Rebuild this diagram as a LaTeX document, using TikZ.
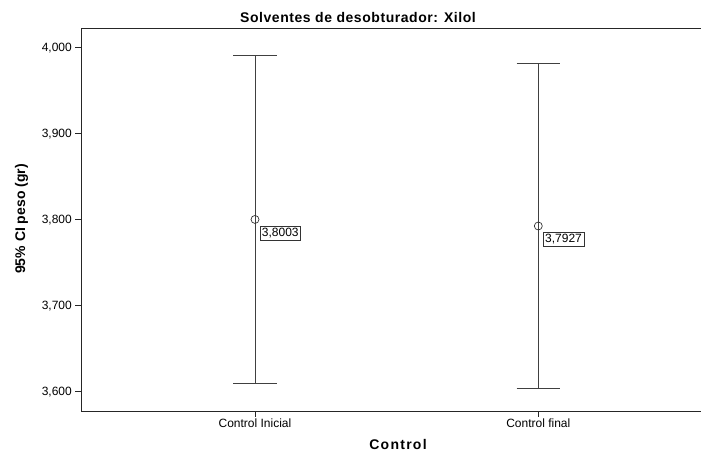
\documentclass[tikz,border=0pt]{standalone}
\usepackage{fontspec}
\setmainfont{Liberation Sans}
\usepackage{xcolor}

\begin{document}
\begin{tikzpicture}[x=1pt, y=-1pt,
  axisline/.style={draw=black!85, line width=0.9pt},
  errbar/.style={draw=black!75, line width=0.8pt},
  ticklabel/.style={font=\fontsize{12}{12}\selectfont, inner sep=0pt},
  meandot/.style={circle, draw=black!80, line width=0.7pt, minimum size=8pt, inner sep=0pt},
  meanlabel/.style={draw=black!80, line width=0.6pt, fill=white, font=\fontsize{12}{12}\selectfont, inner sep=2pt, minimum height=12.6pt, anchor=north west}]
\useasboundingbox (0,0) rectangle (701,452);

% frame of the plot
\coordinate (tl) at (81,28);
\coordinate (bl) at (81,411);
\coordinate (tr) at (701,28);
\coordinate (br) at (701,411);
\draw[axisline] (tr) -- (tl) -- (bl) -- (br);

% y axis ticks
\foreach \v/\txt in {4.0/{4,000},3.9/{3,900},3.8/{3,800},3.7/{3,700},3.6/{3,600}} {
  \coordinate (yt) at (81,{47.7+(4-\v)*860});
  \draw[axisline] (yt) -- ++(-6,0);
  \node[ticklabel, anchor=east] at ([xshift=-9pt]yt) {\txt};
}

% error bars
\foreach \nm/\xx/\lo/\hi/\mn/\lab/\grp in {Ini/255/3.6098/3.991/3.8003/{3,8003}/{Control Inicial},
    Fin/538.3/3.604/3.982/3.7927/{3,7927}/{Control final}} {
  \coordinate (hi\nm) at (\xx,{47.7+(4-\hi)*860});
  \coordinate (lo\nm) at (\xx,{47.7+(4-\lo)*860});
  \draw[errbar] (hi\nm) -- (lo\nm);
  \draw[errbar] ([xshift=-21.7pt]hi\nm) -- ([xshift=21.7pt]hi\nm);
  \draw[errbar] ([xshift=-21.7pt]lo\nm) -- ([xshift=21.7pt]lo\nm);
  \node[meandot] (m\nm) at (\xx,{47.7+(4-\mn)*860}) {};
  \node[meanlabel] (l\nm) at ([shift={(4.6,6.2)}]m\nm) {\lab};
  % x axis tick
  \coordinate (xt\nm) at (\xx,411);
  \draw[axisline] (xt\nm) -- ++(0,6);
  \node[ticklabel, anchor=base] at (\xx,427.3) {\grp};
}

% titles
\node[font=\fontsize{14}{14}\selectfont\bfseries\addfontfeature{LetterSpace=4}, anchor=base] (title) at (358,22.7) {Solventes de desobturador: Xilol};
\node[font=\fontsize{14}{14}\selectfont\bfseries\addfontfeature{LetterSpace=9}, anchor=base] (xlab) at (398,449.3) {Control};
\node[font=\fontsize{14}{14}\selectfont\bfseries, rotate=90, anchor=base] (ylab) at (25,219) {95\% CI peso (gr)};
\end{tikzpicture}
\end{document}
